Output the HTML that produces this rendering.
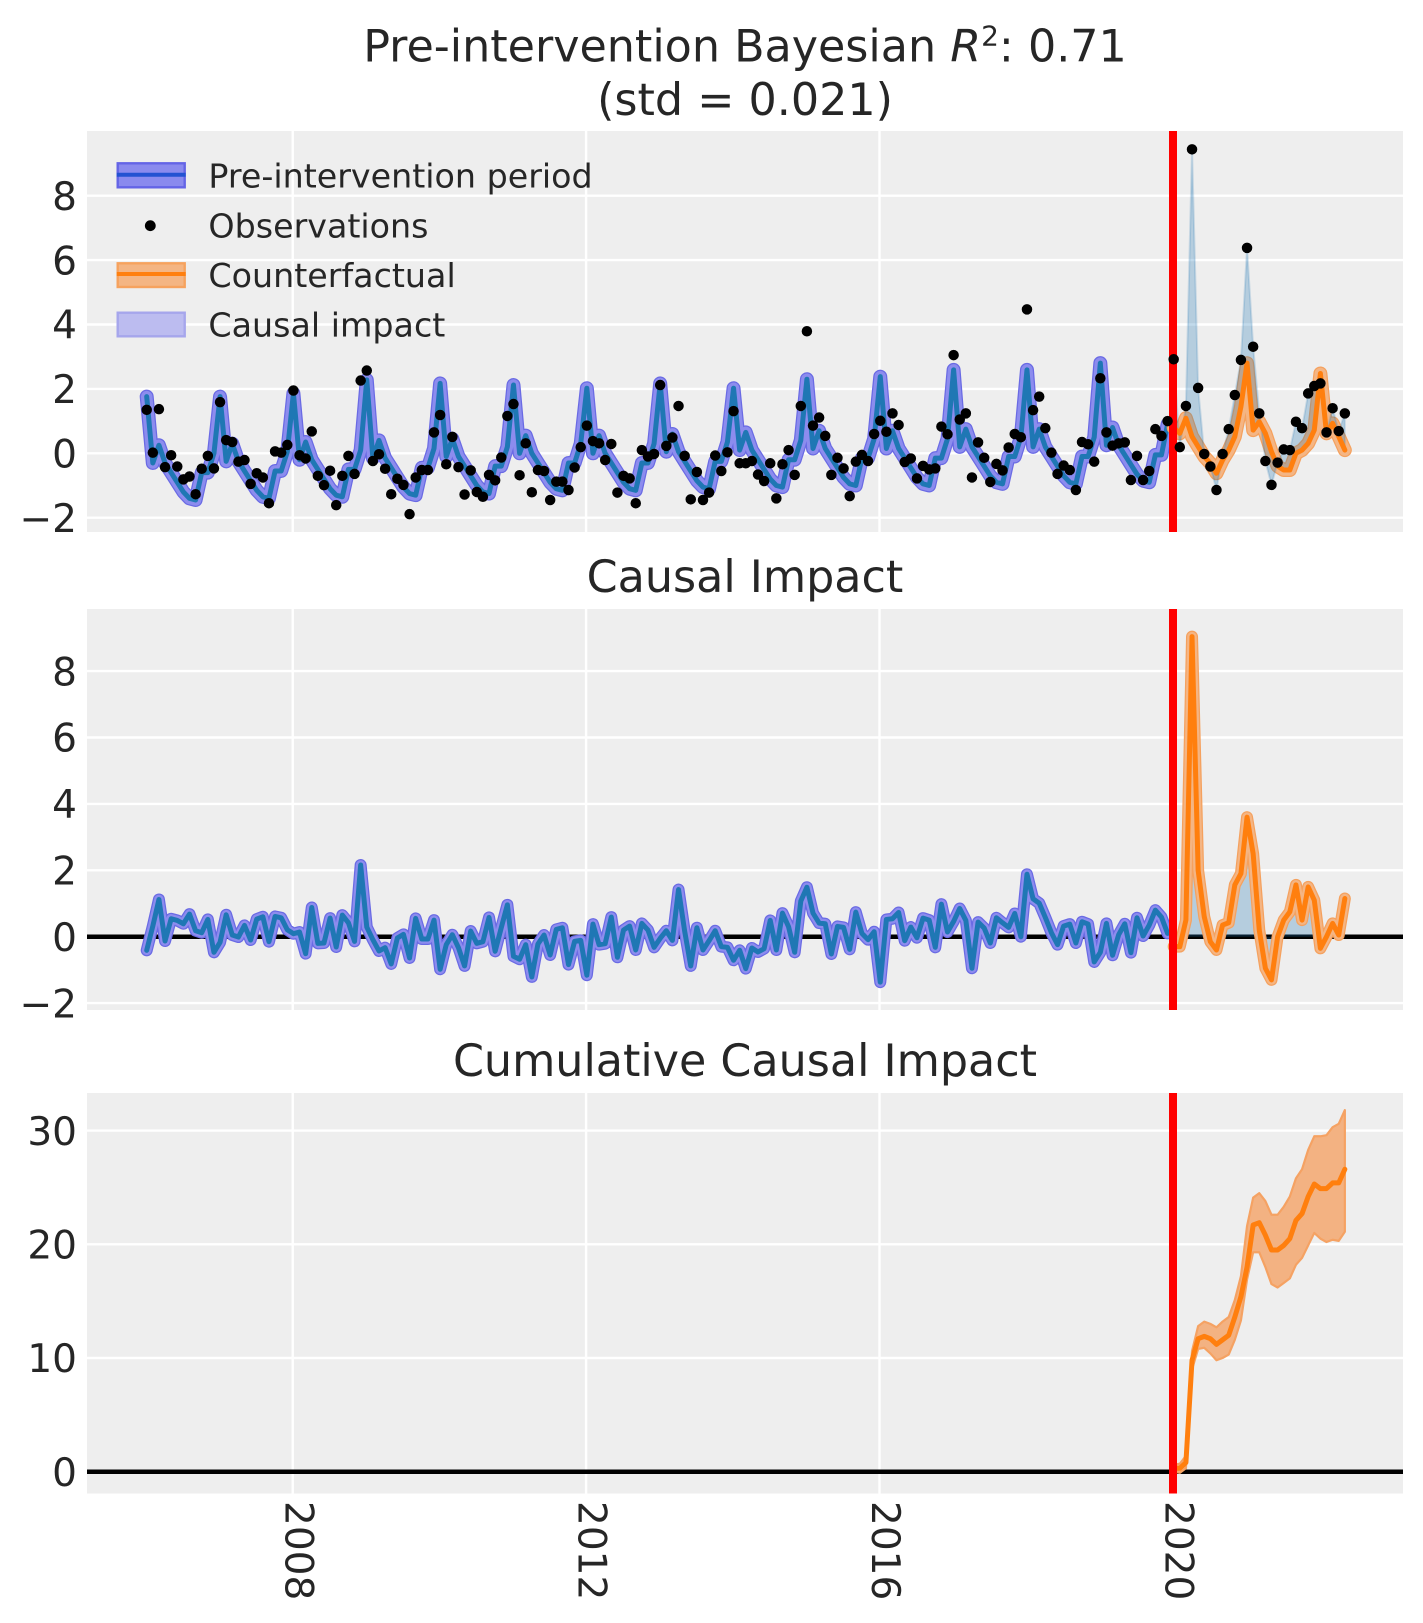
<!DOCTYPE html>
<html><head><meta charset="utf-8"><style>
html,body{margin:0;padding:0;background:#fff}
svg{display:block}
text{font-family:"DejaVu Sans","Liberation Sans",sans-serif;fill:#262626}
</style></head><body>
<svg xmlns="http://www.w3.org/2000/svg" xmlns:xlink="http://www.w3.org/1999/xlink" width="1423" height="1623" viewBox="0 0 1423 1623">
<defs>
<path id="fit" vector-effect="non-scaling-stroke" d="M0 1.76L1 -.3 2 .25 3 -.3 4 -.6 5 -.9 6 -1.2 7 -1.4 8 -1.45 9 -.6 10 -.6 11 0 12 1.76 13 -.25 14 .3 15 -.25 16 -.55 17 -.85 18 -1.15 19 -1.35 20 -1.4 21 -.55 22 -.55 23 .05 24 1.86 25 -.2 26 .35 27 -.2 28 -.5 29 -.8 30 -1.1 31 -1.3 32 -1.35 33 -.5 34 -.5 35 .1 36 2.28 37 -.15 38 .4 39 -.15 40 -.45 41 -.75 42 -1.05 43 -1.25 44 -1.3 45 -.45 46 -.45 47 .15 48 2.17 49 -.1 50 .45 51 -.1 52 -.4 53 -.7 54 -1 55 -1.2 56 -1.25 57 -.4 58 -.4 59 .2 60 2.12 61 0 62 .55 63 0 64 -.3 65 -.6 66 -.9 67 -1.1 68 -1.15 69 -.3 70 -.3 71 .3 72 2.02 73 0 74 .55 75 0 76 -.3 77 -.6 78 -.9 79 -1.1 80 -1.15 81 -.3 82 -.3 83 .3 84 2.17 85 .05 86 .6 87 .05 88 -.25 89 -.55 90 -.85 91 -1.05 92 -1.1 93 -.25 94 -.25 95 .35 96 2.02 97 .1 98 .65 99 .1 100 -.2 101 -.5 102 -.8 103 -1 104 -1.05 105 -.2 106 -.2 107 .4 108 2.3 109 .15 110 .7 111 .15 112 -.15 113 -.45 114 -.75 115 -.95 116 -1 117 -.15 118 -.15 119 .45 120 2.38 121 .15 122 .7 123 .15 124 -.15 125 -.45 126 -.75 127 -.95 128 -1 129 -.15 130 -.15 131 .45 132 2.59 133 .2 134 .75 135 .2 136 -.1 137 -.4 138 -.7 139 -.9 140 -.95 141 -.1 142 -.1 143 .5 144 2.59 145 .2 146 .75 147 .2 148 -.1 149 -.4 150 -.7 151 -.9 152 -.95 153 -.1 154 -.1 155 .5 156 2.8 157 .25 158 .8 159 .25 160 -.05 161 -.35 162 -.65 163 -.85 164 -.9 165 -.05 166 -.05 167 .9"/>
<path id="cf" vector-effect="non-scaling-stroke" d="M168 .8L169 .62 170 1.09 171 .52 172 .21 173 -.1 174 -.31 175 -.62 176 -.21 177 .1 178 .52 179 1.45 180 2.8 181 .72 182 .98 183 .62 184 .05 185 -.4 186 -.52 187 -.52 188 0 189 .1 190 .31 191 .72 192 2.48 193 .62 194 .93 195 .52 196 .1"/>
<path id="d2" vector-effect="non-scaling-stroke" d="M0 -.41L1 .32 2 1.12 3 -.13 4 .54 5 .49 6 .39 7 .68 8 .18 9 .12 10 .52 11 -.47 12 -.17 13 .66 14 .05 15 -.01 16 .34 17 -.1 18 .53 19 .6 20 -.15 21 .61 22 .57 23 .21 24 .09 25 .14 26 -.51 27 .88 28 -.2 29 -.19 30 .56 31 -.31 32 .65 33 .42 34 -.14 35 2.16 36 .29 37 -.09 38 -.43 39 -.33 40 -.82 41 -.04 42 .07 43 -.64 44 .55 45 -.07 46 -.07 47 .5 48 -.98 49 -.24 50 .06 51 -.33 52 -.88 53 .17 54 -.2 55 -.15 56 .58 57 -.44 58 .27 59 .96 60 -.59 61 -.68 62 -.24 63 -1.21 64 -.22 65 .05 66 -.55 67 .22 68 .27 69 -.84 70 -.14 71 -.11 72 -1.16 73 .38 74 -.24 75 -.21 76 .59 77 -.62 78 .2 79 .32 80 -.4 81 .4 82 .2 83 -.32 84 -.05 85 .18 86 -.11 87 1.42 88 .17 89 -.88 90 .27 91 -.4 92 -.12 93 .18 94 -.3 95 -.32 96 -.71 97 -.41 98 -.96 99 -.34 100 -.46 101 -.36 102 .49 103 -.4 104 .71 105 .3 106 -.47 107 1.07 108 1.49 109 .71 110 .41 111 .39 112 -.52 113 .31 114 .28 115 -.38 116 .74 117 .1 118 -.09 119 .15 120 -1.37 121 .52 122 .54 123 .73 124 -.12 125 .29 126 -.03 127 .56 128 .5 129 -.32 130 .98 131 .14 132 .46 133 .85 134 .49 135 -.95 136 .44 137 .26 138 -.19 139 .57 140 .42 141 .28 142 .7 143 0 144 1.88 145 1.14 146 1.01 147 .58 148 .12 149 -.24 150 .32 151 .38 152 -.19 153 .45 154 .38 155 -.76 156 -.47 157 .4 158 -.56 159 .06 160 .39 161 -.48 162 .57 163 .02 164 .35 165 .8 166 .59 167 .1"/>
<path id="p2" vector-effect="non-scaling-stroke" d="M168 -.3L169 -.3 170 .5 171 9.04 172 2 173 .6 174 -.15 175 -.4 176 .35 177 .42 178 1.56 179 1.9 180 3.6 181 2.5 182 .2 183 -.95 184 -1.3 185 0 186 .5 187 .75 188 1.56 189 .5 190 1.5 191 1.1 192 -.35 193 0 194 .4 195 .05 196 1.15"/>
</defs>

<!-- Titles -->
<text x="745" y="61.5" text-anchor="middle" font-size="44.4">Pre-intervention Bayesian <tspan font-style="italic">R</tspan><tspan dy="-16" font-size="28">2</tspan><tspan dy="16">: 0.71</tspan></text>
<text x="745" y="115" text-anchor="middle" font-size="44.4">(std = 0.021)</text>
<text x="745" y="592" text-anchor="middle" font-size="44.4">Causal Impact</text>
<text x="745" y="1076" text-anchor="middle" font-size="44.4">Cumulative Causal Impact</text>

<!-- ===== Panel 1 ===== -->
<rect x="87" y="131" width="1316" height="401" fill="#eeeeee"/>
<g stroke="#ffffff" stroke-width="2.4">
<line x1="87" x2="1403" y1="517.7" y2="517.7"/><line x1="87" x2="1403" y1="453.3" y2="453.3"/><line x1="87" x2="1403" y1="388.9" y2="388.9"/><line x1="87" x2="1403" y1="324.5" y2="324.5"/><line x1="87" x2="1403" y1="260.1" y2="260.1"/><line x1="87" x2="1403" y1="195.7" y2="195.7"/>
<line x1="292.7" x2="292.7" y1="131" y2="532"/><line x1="586.1" x2="586.1" y1="131" y2="532"/><line x1="879.5" x2="879.5" y1="131" y2="532"/><line x1="1173" x2="1173" y1="131" y2="532"/>
</g>
<g transform="matrix(6.113,0,0,-32.2,146.7,453.3)" fill="none" stroke-linejoin="round" stroke-linecap="round">
<use xlink:href="#fit" href="#fit" stroke="#6a6ae4" stroke-width="14"/>
<use xlink:href="#fit" href="#fit" stroke="#8c8cee" stroke-width="11.5"/>
<use xlink:href="#fit" href="#fit" stroke="#1f77b4" stroke-width="5"/>
<use xlink:href="#cf" href="#cf" stroke="#f5a15e" stroke-width="14"/>
<use xlink:href="#cf" href="#cf" stroke="#f4b584" stroke-width="11.5"/>
<path d="M168 2.92L169 .19 170 1.47 171 9.44 172 2.03 173 -.02 174 -.41 175 -1.14 176 -.02 177 .75 178 1.81 179 2.9 180 6.38 181 3.31 182 1.24 183 -.24 184 -.98 185 -.29 186 .12 187 .1 188 .98 189 .78 190 1.86 191 2.09 192 2.17 193 .65 194 1.4 195 .69 196 1.24 196 .1 195 .52 194 .93 193 .62 192 2.48 191 .72 190 .31 189 .1 188 0 187 -.52 186 -.52 185 -.4 184 .05 183 .62 182 .98 181 .72 180 2.8 179 1.45 178 .52 177 .1 176 -.21 175 -.62 174 -.31 173 -.1 172 .21 171 .52 170 1.09 169 .62 168 .8Z" fill="#1f77b4" fill-opacity="0.27" stroke="#1f77b4" stroke-opacity="0.18" stroke-width="2" vector-effect="non-scaling-stroke"/>
<use xlink:href="#cf" href="#cf" stroke="#ff7f0e" stroke-width="5"/>
</g>
<rect x="1169" y="131" width="8" height="401" fill="#ff0000"/>
<g transform="matrix(6.113,0,0,-32.2,146.7,453.3)" fill="none" stroke="#000" stroke-width="10.5" stroke-linecap="round">
<path vector-effect="non-scaling-stroke" d="M0 1.35h.001M1 .02h.001M2 1.37h.001M3 -.43h.001M4 -.06h.001M5 -.41h.001M6 -.81h.001M7 -.72h.001M8 -1.27h.001M9 -.48h.001M10 -.08h.001M11 -.47h.001M12 1.59h.001M13 .41h.001M14 .35h.001M15 -.26h.001M16 -.21h.001M17 -.95h.001M18 -.62h.001M19 -.75h.001M20 -1.55h.001M21 .06h.001M22 .02h.001M23 .26h.001M24 1.95h.001M25 -.06h.001M26 -.16h.001M27 .68h.001M28 -.7h.001M29 -.99h.001M30 -.54h.001M31 -1.61h.001M32 -.7h.001M33 -.08h.001M34 -.64h.001M35 2.26h.001M36 2.57h.001M37 -.24h.001M38 -.03h.001M39 -.48h.001M40 -1.27h.001M41 -.79h.001M42 -.98h.001M43 -1.89h.001M44 -.75h.001M45 -.52h.001M46 -.52h.001M47 .65h.001M48 1.19h.001M49 -.34h.001M50 .51h.001M51 -.43h.001M52 -1.28h.001M53 -.53h.001M54 -1.2h.001M55 -1.35h.001M56 -.67h.001M57 -.84h.001M58 -.13h.001M59 1.16h.001M60 1.53h.001M61 -.68h.001M62 .31h.001M63 -1.21h.001M64 -.52h.001M65 -.55h.001M66 -1.45h.001M67 -.88h.001M68 -.88h.001M69 -1.14h.001M70 -.44h.001M71 .19h.001M72 .86h.001M73 .38h.001M74 .31h.001M75 -.21h.001M76 .29h.001M77 -1.22h.001M78 -.7h.001M79 -.78h.001M80 -1.55h.001M81 .1h.001M82 -.1h.001M83 -.02h.001M84 2.12h.001M85 .23h.001M86 .49h.001M87 1.47h.001M88 -.08h.001M89 -1.43h.001M90 -.58h.001M91 -1.45h.001M92 -1.22h.001M93 -.07h.001M94 -.55h.001M95 .03h.001M96 1.31h.001M97 -.31h.001M98 -.31h.001M99 -.24h.001M100 -.66h.001M101 -.86h.001M102 -.31h.001M103 -1.4h.001M104 -.34h.001M105 .1h.001M106 -.67h.001M107 1.47h.001M108 3.79h.001M109 .86h.001M110 1.11h.001M111 .54h.001M112 -.67h.001M113 -.14h.001M114 -.47h.001M115 -1.33h.001M116 -.26h.001M117 -.05h.001M118 -.24h.001M119 .6h.001M120 1.01h.001M121 .67h.001M122 1.24h.001M123 .88h.001M124 -.27h.001M125 -.16h.001M126 -.78h.001M127 -.39h.001M128 -.5h.001M129 -.47h.001M130 .83h.001M131 .59h.001M132 3.05h.001M133 1.05h.001M134 1.24h.001M135 -.75h.001M136 .34h.001M137 -.14h.001M138 -.89h.001M139 -.33h.001M140 -.53h.001M141 .18h.001M142 .6h.001M143 .5h.001M144 4.47h.001M145 1.34h.001M146 1.76h.001M147 .78h.001M148 .02h.001M149 -.64h.001M150 -.38h.001M151 -.52h.001M152 -1.14h.001M153 .35h.001M154 .28h.001M155 -.26h.001M156 2.33h.001M157 .65h.001M158 .24h.001M159 .31h.001M160 .34h.001M161 -.83h.001M162 -.08h.001M163 -.83h.001M164 -.55h.001M165 .75h.001M166 .54h.001M167 1h.001M168 2.92h.001M169 .19h.001M170 1.47h.001M171 9.44h.001M172 2.03h.001M173 -.02h.001M174 -.41h.001M175 -1.14h.001M176 -.02h.001M177 .75h.001M178 1.81h.001M179 2.9h.001M180 6.38h.001M181 3.31h.001M182 1.24h.001M183 -.24h.001M184 -.98h.001M185 -.29h.001M186 .12h.001M187 .1h.001M188 .98h.001M189 .78h.001M190 1.86h.001M191 2.09h.001M192 2.17h.001M193 .65h.001M194 1.4h.001M195 .69h.001M196 1.24h.001"/>
</g>
<!-- legend -->
<rect x="117.7" y="163.3" width="67" height="24" fill="#8a8aee" stroke="#6464e6" stroke-width="2.4"/>
<line x1="116.7" x2="185.7" y1="174.7" y2="174.7" stroke="#2352d2" stroke-width="4"/>
<circle cx="150.3" cy="225.7" r="5.4" fill="#000"/>
<rect x="117.7" y="263.3" width="67" height="23.7" fill="#f4b583" stroke="#f6a25e" stroke-width="2.4"/>
<line x1="116.7" x2="185.7" y1="274" y2="274" stroke="#ff7f0e" stroke-width="4"/>
<rect x="117.7" y="312.7" width="67" height="23.6" fill="#bcbcf0" stroke="#a6a6ec" stroke-width="2.4"/>
<g font-size="33.3">
<text x="208.4" y="187.3">Pre-intervention period</text>
<text x="208.4" y="237.3">Observations</text>
<text x="208.4" y="286.8">Counterfactual</text>
<text x="208.4" y="336.4">Causal impact</text>
</g>
<g font-size="39" text-anchor="end">
<text x="77" y="531.9">−2</text><text x="77" y="467.5">0</text><text x="77" y="403.1">2</text><text x="77" y="338.7">4</text><text x="77" y="274.3">6</text><text x="77" y="209.9">8</text>
</g>

<!-- ===== Panel 2 ===== -->
<rect x="87" y="609" width="1316" height="401" fill="#eeeeee"/>
<g stroke="#ffffff" stroke-width="2.4">
<line x1="87" x2="1403" y1="1003.1" y2="1003.1"/><line x1="87" x2="1403" y1="870.3" y2="870.3"/><line x1="87" x2="1403" y1="803.9" y2="803.9"/><line x1="87" x2="1403" y1="737.5" y2="737.5"/><line x1="87" x2="1403" y1="671.1" y2="671.1"/>
<line x1="292.7" x2="292.7" y1="609" y2="1010"/><line x1="586.1" x2="586.1" y1="609" y2="1010"/><line x1="879.5" x2="879.5" y1="609" y2="1010"/><line x1="1173" x2="1173" y1="609" y2="1010"/>
</g>
<line x1="87" x2="1403" y1="936.7" y2="936.7" stroke="#000" stroke-width="4.5"/>
<g transform="matrix(6.113,0,0,-33.2,146.7,936.7)" fill="none" stroke-linejoin="round" stroke-linecap="round">
<use xlink:href="#d2" href="#d2" stroke="#6a6ae4" stroke-width="12"/>
<use xlink:href="#d2" href="#d2" stroke="#8c8cee" stroke-width="9.5"/>
<use xlink:href="#d2" href="#d2" stroke="#1f77b4" stroke-width="5"/>
<path vector-effect="non-scaling-stroke" d="M168 0L168 -.3 169 -.3 170 .5 171 9.04 172 2 173 .6 174 -.15 175 -.4 176 .35 177 .42 178 1.56 179 1.9 180 3.6 181 2.5 182 .2 183 -.95 184 -1.3 185 0 186 .5 187 .75 188 1.56 189 .5 190 1.5 191 1.1 192 -.35 193 0 194 .4 195 .05 196 1.15 196 0Z" fill="#1f77b4" fill-opacity="0.27" stroke="none"/>
<use xlink:href="#p2" href="#p2" stroke="#f5a15e" stroke-width="12"/>
<use xlink:href="#p2" href="#p2" stroke="#f4b584" stroke-width="9.5"/>
<use xlink:href="#p2" href="#p2" stroke="#ff7f0e" stroke-width="5"/>
</g>
<rect x="1169" y="609" width="8" height="401" fill="#ff0000"/>
<g font-size="39" text-anchor="end">
<text x="77" y="1017.3">−2</text><text x="77" y="950.9">0</text><text x="77" y="884.5">2</text><text x="77" y="818.1">4</text><text x="77" y="751.7">6</text><text x="77" y="685.3">8</text>
</g>

<!-- ===== Panel 3 ===== -->
<rect x="87" y="1093" width="1316" height="400.5" fill="#eeeeee"/>
<g stroke="#ffffff" stroke-width="2.4">
<line x1="87" x2="1403" y1="1358" y2="1358"/><line x1="87" x2="1403" y1="1244.3" y2="1244.3"/><line x1="87" x2="1403" y1="1130.6" y2="1130.6"/>
<line x1="292.7" x2="292.7" y1="1093" y2="1493.5"/><line x1="586.1" x2="586.1" y1="1093" y2="1493.5"/><line x1="879.5" x2="879.5" y1="1093" y2="1493.5"/><line x1="1173" x2="1173" y1="1093" y2="1493.5"/>
</g>
<line x1="87" x2="1403" y1="1471.7" y2="1471.7" stroke="#000" stroke-width="4.5"/>
<g transform="matrix(6.113,0,0,-11.37,146.7,1471.7)" fill="none" stroke-linejoin="round" stroke-linecap="round">
<path vector-effect="non-scaling-stroke" d="M168 .6L169 .7 170 1.4 171 10.6 172 12.8 173 13.2 174 13 175 12.7 176 13.2 177 13.6 178 15.1 179 17.2 180 21.6 181 24.1 182 24.5 183 23.8 184 22.6 185 22.6 186 23.3 187 24.2 188 25.8 189 26.6 190 28.3 191 29.5 192 29.5 193 29.6 194 30.3 195 30.6 196 31.8 196 21.1 195 20.3 194 20.4 193 20.2 192 20.5 191 21 190 19.9 189 18.8 188 18.2 187 17 186 16.6 185 16.2 184 16.5 183 18 182 19.3 181 19.3 180 16.9 179 13.3 178 11.6 177 10.3 176 10 175 9.8 174 10.4 173 10.9 172 10.8 171 9 170 .3 169 -.1 168 0Z" fill="#f3b282" stroke="#f5a263" stroke-width="2.2"/>
<path vector-effect="non-scaling-stroke" d="M168 .3L169 .3 170 .8 171 9.8 172 11.7 173 11.9 174 11.7 175 11.2 176 11.6 177 12 178 13.6 179 15.4 180 18 181 21.7 182 21.9 183 20.8 184 19.5 185 19.5 186 19.9 187 20.5 188 22.1 189 22.7 190 24.2 191 25.3 192 24.9 193 24.9 194 25.4 195 25.4 196 26.6" stroke="#ff7f0e" stroke-width="5"/>
</g>
<rect x="1169" y="1093" width="8" height="400.5" fill="#ff0000"/>
<g font-size="39" text-anchor="end">
<text x="77" y="1485.9">0</text><text x="77" y="1372.2">10</text><text x="77" y="1258.5">20</text><text x="77" y="1144.8">30</text>
</g>

<!-- x tick labels (rotated) -->
<g font-size="39">
<text transform="translate(285.3,1501) rotate(90)">2008</text>
<text transform="translate(578.7,1501) rotate(90)">2012</text>
<text transform="translate(872.1,1501) rotate(90)">2016</text>
<text transform="translate(1165.6,1501) rotate(90)">2020</text>
</g>
</svg>
</body></html>
